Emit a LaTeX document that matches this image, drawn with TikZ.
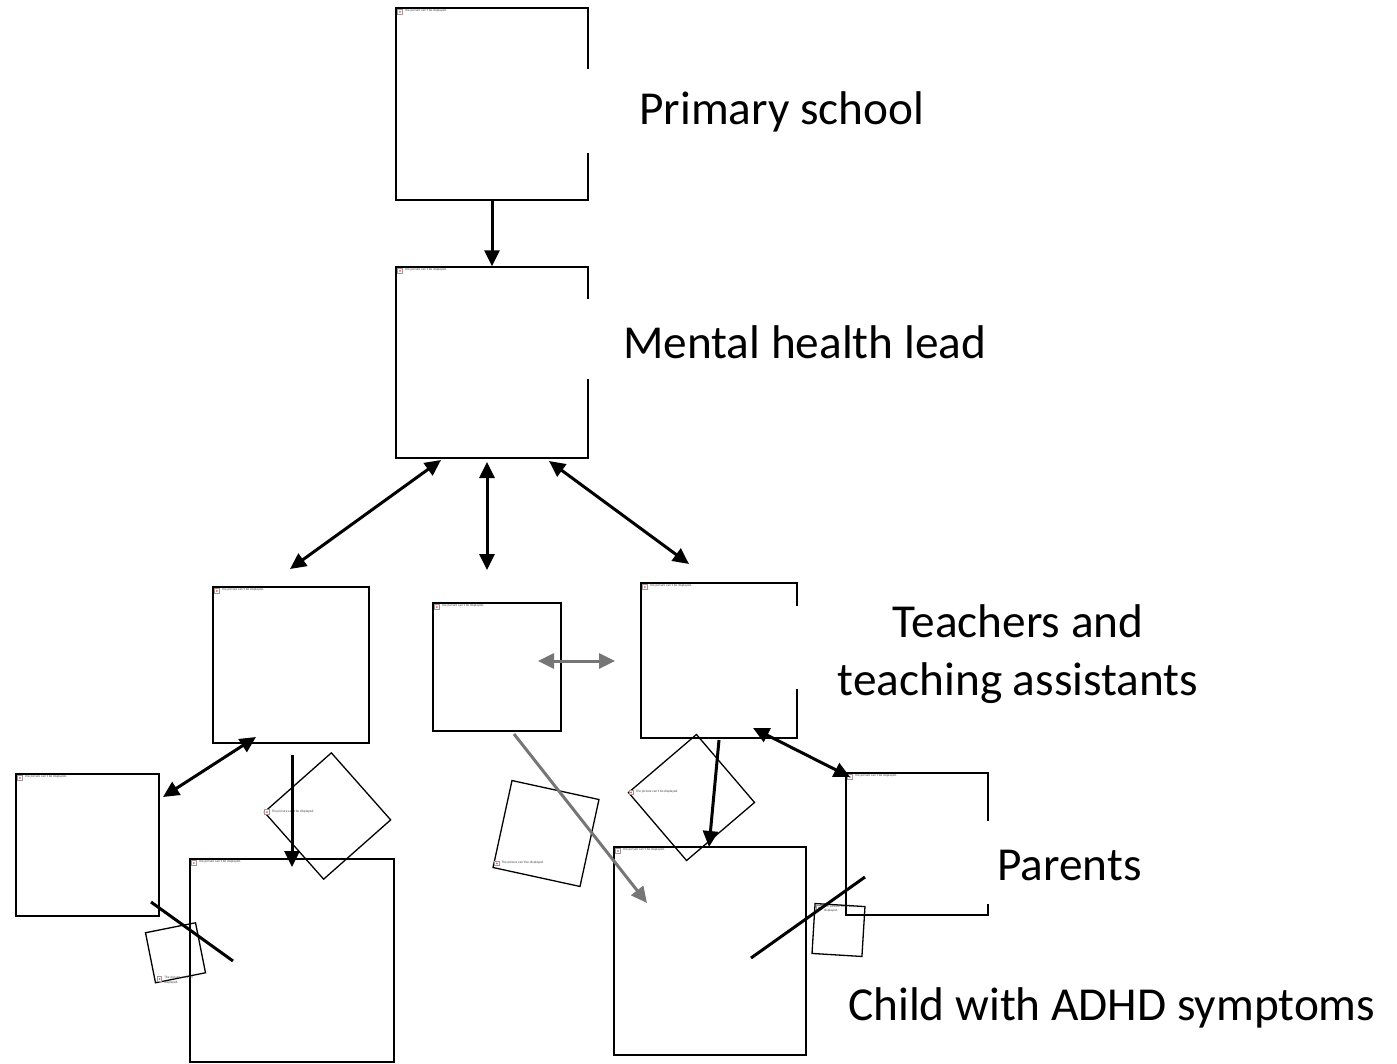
\documentclass[tikz,border=0pt]{standalone}
\usepackage{fontspec}
\setmainfont{Carlito}
\usepackage{xcolor}
\usetikzlibrary{arrows.meta,calc,positioning}

\definecolor{linkgray}{RGB}{118,118,118}

\tikzset{
  imgbox/.style={draw, line width=1.3pt, inner sep=0pt},
  brkicon/.style={draw=gray!80, line width=0.7pt, fill=white, minimum size=4.5pt, inner sep=0pt,
    path picture={\fill[red!70] (path picture bounding box.center) circle (1pt);}},
  brktxt/.style={font=\fontsize{3.4}{4.2}\selectfont, text=black!75, inner sep=0pt},
  brkwrap/.style={brktxt, text width=34pt, align=left},
  lbl/.style={font=\fontsize{47.3}{58}\selectfont, inner sep=0pt, align=center},
  both/.style={line width=3pt, {Triangle[length=16pt,width=15pt]}-{Triangle[length=16pt,width=15pt]}},
  one/.style={line width=3pt, -{Triangle[length=16pt,width=15pt]}},
}

\begin{document}
\begin{tikzpicture}[x=1pt,y=-1pt]
 \useasboundingbox (0,0) rectangle (1397,1063);

 % picture frames
 \node[imgbox, minimum size=192pt] (b1) at (492,104) {};
 \node[imgbox, minimum width=192pt, minimum height=191pt] (b2) at (492,362.5) {};
 \node[imgbox, minimum size=156pt] (b3) at (291,665) {};
 \node[imgbox, minimum size=128pt] (b4) at (497,667) {};
 \node[imgbox, minimum width=156pt, minimum height=155pt] (b5) at (719,660.5) {};
 \node[imgbox, minimum width=143pt, minimum height=142pt] (b6) at (87.5,845) {};
 \node[imgbox, minimum width=204pt, minimum height=203pt] (b7) at (292,960.5) {};
 \node[imgbox, minimum width=192pt, minimum height=208pt] (b8) at (710,951) {};
 \node[imgbox, minimum size=142pt] (b9) at (917,844) {};
 \node[imgbox, minimum size=89.5pt, rotate=41.5] (r1) at (327.5,816) {};
 \node[imgbox, minimum size=89pt, rotate=-12.3] (r2) at (546,833.5) {};
 \node[imgbox, minimum size=89.4pt, rotate=40.5] (r3) at (691.5,797.5) {};
 \node[imgbox, minimum size=51pt, rotate=11.3] (r4) at (175.5,952.75) {};
 \node[imgbox, minimum size=50pt, rotate=-3.5] (r5) at (838.5,930) {};

 \foreach \b/\c/\a/\dx/\dy/\st in {b1/north west/north west/2/2/brktxt,
   b2/north west/north west/2/2/brktxt, b3/north west/north west/2/2/brktxt,
   b4/north west/north west/2/2/brktxt, b5/north west/north west/2/2/brktxt,
   b6/north west/north west/2/2/brktxt, b7/north west/north west/2/2/brktxt,
   b8/north west/north west/2/2/brktxt, b9/north west/north west/2/2/brktxt,
   r1/north west/west/1/0/brktxt, r2/south west/south west/2/-2/brktxt,
   r3/north west/west/1/0/brktxt, r4/south west/south west/2/-2/brkwrap,
   r5/north west/north west/2/2/brkwrap}
 {
   \node[brkicon, anchor=\a] (\b-icon) at ($(\b.\c)+(\dx,\dy)$) {};
   \node[\st, anchor=north west] at ($(\b-icon.north east)+(2,0)$) {The picture can't be displayed.};
 }

 % gaps left by the text boxes
 \fill[white] ($(b1.north east)+(-3,62)$) rectangle ($(b1.north east)+(3,146)$);
 \fill[white] ($(b2.north east)+(-3,33)$) rectangle ($(b2.north east)+(3,113)$);
 \fill[white] ($(b5.north east)+(-3,24)$) rectangle ($(b5.north east)+(3,107)$);
 \fill[white] ($(b9.north east)+(-3,49)$) rectangle ($(b9.north east)+(3,132)$);

 % labels
 \node[lbl, anchor=base west] (school) at (639,124) {Primary school};
 \node[lbl, anchor=base west] (lead) at (623,358) {Mental health lead};
 \node[lbl] (staff) at (1018,654) {Teachers and\\teaching assistants};
 \node[lbl, anchor=base west] (parents) at (997,880) {Parents};
 \node[lbl, anchor=base west] (child) at (848,1020) {Child with ADHD symptoms};

 % arrow ends
 \coordinate (leadL) at (441,460);
 \coordinate (teachL) at (290,569);
 \coordinate (leadM) at (487,462);
 \coordinate (teachM) at (487,570);
 \coordinate (leadR) at (549,461);
 \coordinate (teachR) at (689,564);
 \coordinate (pairL) at (538,661);
 \coordinate (pairR) at (615,661);
 \coordinate (taL) at (256,737);
 \coordinate (parL) at (163,797);
 \coordinate (taDown) at (292,755);
 \coordinate (childL) at (292,867);
 \coordinate (midDown) at (514,734);
 \coordinate (childR) at (647,903);
 \coordinate (taR) at (719,740);
 \coordinate (childTop) at (709,847);
 \coordinate (taCorner) at (753,728);
 \coordinate (parR) at (850,777);
 \coordinate (cutLa) at (151,902);
 \coordinate (cutLb) at (233,961);
 \coordinate (cutRa) at (865,877);
 \coordinate (cutRb) at (751,958);

 \draw[one] (b1) -- (b2);
 \draw[both] (leadL) -- (teachL);
 \draw[both] (leadM) -- (teachM);
 \draw[both] (leadR) -- (teachR);
 \draw[both, linkgray] (pairL) -- (pairR);
 \draw[both] (taL) -- (parL);
 \draw[one] (taDown) -- (childL);
 \draw[one, linkgray] (midDown) -- (childR);
 \draw[one] (taR) -- (childTop);
 \draw[both] (taCorner) -- (parR);
 \draw[line width=3pt] (cutLa) -- (cutLb);
 \draw[line width=3pt] (cutRa) -- (cutRb);

\end{tikzpicture}
\end{document}
